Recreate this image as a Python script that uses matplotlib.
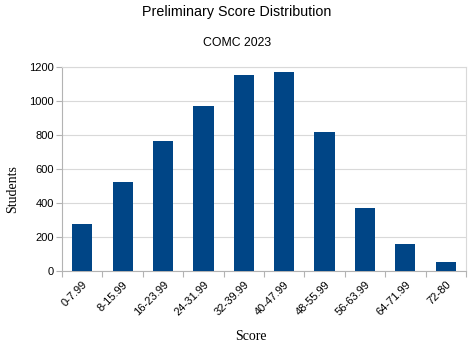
import numpy as np
import matplotlib
matplotlib.use("Agg")
import matplotlib.pyplot as plt

categories = ["0-7.99", "8-15.99", "16-23.99", "24-31.99", "32-39.99",
              "40-47.99", "48-55.99", "56-63.99", "64-71.99", "72-80"]
students = [276, 523, 765, 970, 1153, 1170, 819, 370, 161, 53]
yticks = [0, 200, 400, 600, 800, 1000, 1200]

plt.rcParams['font.family'] = ['Liberation Sans', 'DejaVu Sans']

fig = plt.figure(figsize=(4.74, 3.51), dpi=100)
ax = fig.add_axes([0.131, 0.228, 0.852, 0.581])

x = np.arange(len(categories))
ax.bar(x, students, width=0.5, color='#004586', zorder=3)

ax.set_xlim(-0.5, len(categories) - 0.5)
ax.set_ylim(0, 1200)
ax.set_yticks(yticks)
ax.set_xticks(x)
ax.set_xticklabels(categories, rotation=45, ha='right', rotation_mode='anchor', fontsize=8)
ax.set_xticks(np.arange(len(categories) + 1) - 0.5, minor=True)
ax.tick_params(axis='x', which='major', length=0, pad=6)
ax.tick_params(axis='x', which='minor', length=4, color='#b3b3b3', width=0.8)
ax.tick_params(axis='y', length=4, color='#b3b3b3', width=0.8, labelsize=8, pad=2)

ax.grid(axis='y', color='#d9d9d9', linewidth=0.8, zorder=0)
for side in ['left', 'bottom']:
    ax.spines[side].set_color('#b3b3b3')
    ax.spines[side].set_linewidth(0.8)
for side in ['top', 'right']:
    ax.spines[side].set_color('#d9d9d9')
    ax.spines[side].set_linewidth(0.8)

# axis titles placed directly on the figure
fig.text(0.53, 0.04, "Score", ha='center', va='center', family='Liberation Serif', fontsize=10)
fig.text(0.027, 0.46, "Students", ha='center', va='center', rotation=90,
         family='Liberation Serif', fontsize=10)

fig.text(0.5, 0.965, "Preliminary Score Distribution", ha='center', va='center', fontsize=10.3)
fig.text(0.5, 0.877, "COMC 2023", ha='center', va='center', fontsize=8.8)

fig.savefig("out.png", dpi=100)
